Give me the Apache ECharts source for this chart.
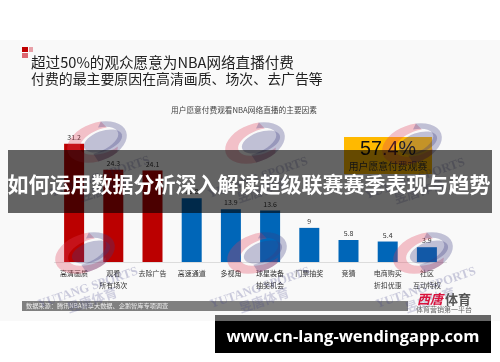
<!DOCTYPE html>
<html>
<head>
<meta charset="utf-8">
<style>
  html, body { margin: 0; padding: 0; background: #fff; }
  #chart { width: 500px; height: 362px; }
</style>
<script src="https://cdn.jsdelivr.net/npm/echarts@6/dist/echarts.min.js"></script>
</head>
<body>
<div id="chart"></div>
<script>
const categories = ['高清画质', '观看\n所有场次', '去除广告', '高速通道', '多视角', '球星装备\n抽奖机会', '门票抽奖', '竞猜', '电商购买\n折扣优惠', '社区\n互动特权'];
const values = [31.2, 24.3, 24.1, 16.8, 13.9, 13.6, 9, 5.8, 5.4, 3.9];
const redCount = 3;
const logoCenters = [[97, 142], [255, 143], [412, 144], [85, 253], [257, 253], [423, 253]];

const FONT = '"Noto Sans CJK SC", sans-serif';
const WM_RED = 'rgba(225,60,85,0.3)';
const WM_GREY = 'rgba(60,60,130,0.3)';

// crescent between two elliptical arcs, used only for the watermark logo
function crescent(cx, cy, outer, inner, from, to, rot, fill) {
  const pts = [];
  const cos = Math.cos(rot), sin = Math.sin(rot);
  const push = (e, deg) => {
    const a = deg * Math.PI / 180;
    const x = e[0] + e[2] * Math.cos(a), y = e[1] + e[3] * Math.sin(a);
    pts.push([cx + x * cos - y * sin, cy + x * sin + y * cos]);
  };
  for (let d = from; d <= to; d += 10) push(outer, d);
  for (let d = to; d >= from; d -= 10) push(inner, d);
  return { type: 'polygon', z: 5, shape: { points: pts }, style: { fill } };
}

function logo(cx, cy) {
  const rot = -20 * Math.PI / 180;
  return [
    crescent(cx, cy, [0, 0, 31, 19], [6, 1, 24, 12], 60, 290, rot, WM_RED),
    { type: 'ellipse', z: 5, shape: { cx: 0, cy: 0, rx: 20, ry: 10 }, x: cx + 6, y: cy - 1, rotation: 20 * Math.PI / 180,
      style: { fill: WM_GREY } },
    crescent(cx, cy, [0, 0, 31, 19], [-3, -2, 26, 12], -70, 100, rot, WM_GREY),
    { type: 'text', z: 5, x: cx + 3, y: cy + 35, rotation: 0.33,
      style: { text: 'YUTANG SPORTS', align: 'center', verticalAlign: 'middle', fill: 'rgba(60,60,130,0.25)', font: 'bold 12.5px "Liberation Serif"' } },
    { type: 'text', z: 5, x: cx + 7, y: cy + 47, rotation: 0.33,
      style: { text: '昱唐体育', align: 'center', verticalAlign: 'middle', fill: 'rgba(60,60,130,0.22)', font: 'bold 13px ' + FONT } }
  ];
}

const chart = echarts.init(document.getElementById('chart'), null, { renderer: 'canvas' });

chart.setOption({
  animation: false,
  backgroundColor: '#fff',
  grid: { left: 54.5, right: 53.5, top: 80, bottom: 100 },
  xAxis: {
    type: 'category',
    data: categories,
    axisTick: { show: false },
    axisLine: { lineStyle: { color: '#dcdcdc', width: 1 } },
    axisLabel: { interval: 0, fontFamily: FONT, fontSize: 7, color: '#333', lineHeight: 12, margin: 5 }
  },
  yAxis: { type: 'value', min: 0, max: 48, show: false },
  series: [{
    type: 'bar',
    z: 3,
    barWidth: 20,
    data: values.map((v, i) => ({ value: v, itemStyle: { color: i < redCount ? '#bb0000' : '#0066b8' } })),
    label: { show: true, position: 'top', distance: 3, fontFamily: FONT, fontSize: 7, color: '#333' }
  }],
  graphic: [
    // panel behind everything
    { type: 'rect', z: -1, shape: { x: 0, y: 40, width: 500, height: 281 }, style: { fill: '#f9f9f9' } },
    // title marker
    { type: 'rect', z: 1, shape: { x: 22, y: 47, width: 6, height: 5 }, style: { fill: '#c00000' } },
    { type: 'rect', z: 1, shape: { x: 29, y: 47, width: 4, height: 5 }, style: { fill: '#e8a0a8' } },
    { type: 'rect', z: 1, shape: { x: 22, y: 53, width: 6, height: 5 }, style: { fill: '#dd6670' } },
    { type: 'text', z: 1, x: 31, y: 62, style: { text: '超过50%的观众愿意为NBA网络直播付费', verticalAlign: 'middle', fill: '#222', font: '14.6px ' + FONT } },
    { type: 'text', z: 1, x: 31, y: 79, style: { text: '付费的最主要原因在高清画质、场次、去广告等', verticalAlign: 'middle', fill: '#222', font: '13.9px ' + FONT } },
    { type: 'text', z: 1, x: 171, y: 110, style: { text: '用户愿意付费观看NBA网络直播的主要因素', verticalAlign: 'middle', fill: '#444', font: '7.7px ' + FONT } },
    // callout
    { type: 'rect', z: 1, shape: { x: 344, y: 137, width: 88, height: 37 }, style: { fill: '#ffb900' } },
    { type: 'text', z: 2, x: 388, y: 150, style: { text: '57.4%', align: 'center', verticalAlign: 'middle', fill: '#111', font: '19.7px "Liberation Sans"' } },
    { type: 'text', z: 2, x: 388, y: 166, style: { text: '用户愿意付费观赛', align: 'center', verticalAlign: 'middle', fill: '#333', font: '9.8px ' + FONT } },
    // source strip
    { type: 'rect', z: 1, shape: { x: 22, y: 301, width: 386, height: 10 }, style: { fill: '#808080' } },
    { type: 'text', z: 2, x: 26, y: 306, style: { text: '数据来源：腾讯NBA智享大数据、企鹅智库专项调查', verticalAlign: 'middle', fill: '#eee', font: '6.2px ' + FONT } },
    // watermarks
    ...logoCenters.flatMap(c => logo(c[0], c[1])),
    // brand
    { type: 'text', z: 6, x: 417, y: 299, style: { text: '西唐', verticalAlign: 'middle', fill: '#d8123c', font: 'italic bold 13px ' + FONT } },
    { type: 'text', z: 6, x: 445, y: 299, style: { text: '体育', verticalAlign: 'middle', fill: '#555', font: 'bold 13px ' + FONT } },
    { type: 'text', z: 6, x: 416, y: 309, style: { text: '体育营销第一平台', verticalAlign: 'middle', fill: '#666', font: '7px ' + FONT } },
    // page overlay banner
    { type: 'rect', z: 20, shape: { x: 8, y: 150, width: 484, height: 63 }, style: { fill: 'rgba(0,0,0,0.6)' } },
    { type: 'text', z: 21, x: 249, y: 184, style: { text: '如何运用数据分析深入解读超级联赛赛季表现与趋势', align: 'center', verticalAlign: 'middle', fill: '#fff', font: 'bold 21px ' + FONT } },
    // url box
    { type: 'rect', z: 20, shape: { x: 215, y: 315, width: 276, height: 6 }, style: { fill: '#666' } },
    { type: 'rect', z: 20, shape: { x: 215, y: 321, width: 276, height: 32 }, style: { fill: '#000' } },
    { type: 'text', z: 21, x: 353, y: 337, style: { text: 'www.cn-lang-wendingapp.com', align: 'center', verticalAlign: 'middle', fill: '#fff', font: 'bold 16.5px "Open Sans"' } }
  ]
});
</script>
</body>
</html>
